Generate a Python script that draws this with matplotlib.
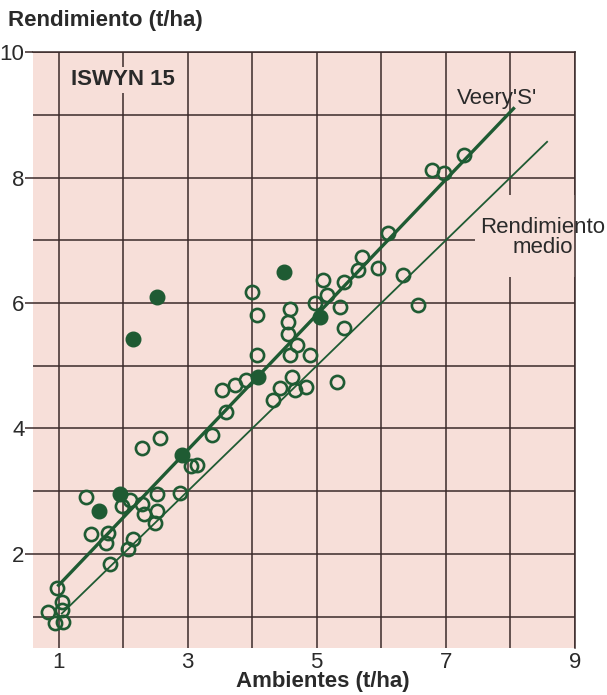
import matplotlib
matplotlib.use("Agg")
import matplotlib.pyplot as plt
from matplotlib.patches import Rectangle

# =============================================================================
# Datos
# =============================================================================
# lineas abiertas: otras variedades
open_x = [0.98, 1.05, 0.84, 1.05, 0.95, 1.07,
          1.43, 1.50, 1.77, 1.74, 1.79, 2.07, 2.15, 1.98, 2.10, 2.30, 2.33,
          2.52, 2.49, 2.53, 2.88, 2.29, 2.57,
          3.05, 3.14, 3.38, 3.60, 3.54, 3.73, 3.91, 3.99, 4.07, 4.07,
          4.32, 4.43, 4.61, 4.66, 4.84, 4.58, 4.55, 4.55, 4.69, 4.58, 4.89,
          4.97, 5.09, 5.16, 5.36, 5.43, 5.43, 5.31, 5.64, 5.70, 5.95, 6.10,
          6.33, 6.57, 6.78, 6.98, 7.29]
open_y = [1.45, 1.24, 1.08, 1.10, 0.90, 0.92,
          2.91, 2.31, 2.34, 2.18, 1.84, 2.08, 2.24, 2.77, 2.86, 2.80, 2.64,
          2.68, 2.50, 2.96, 2.97, 3.69, 3.85,
          3.40, 3.42, 3.89, 4.26, 4.61, 4.69, 4.77, 6.18, 5.81, 5.17,
          4.46, 4.65, 4.82, 4.61, 4.66, 5.90, 5.69, 5.50, 5.33, 5.17, 5.17,
          6.00, 6.37, 6.13, 5.94, 6.33, 5.60, 4.74, 6.53, 6.74, 6.56, 7.11,
          6.45, 5.97, 8.12, 8.07, 8.36]

# puntos llenos: Veery'S'
veery_x = [1.62, 1.95, 2.15, 2.53, 2.92, 4.09, 4.50, 5.05]
veery_y = [2.69, 2.96, 5.43, 6.10, 3.58, 4.82, 6.49, 5.78]

# rectas
veery_line_x = [1.0, 8.05]
veery_line_y = [1.50, 9.10]
medio_line_x = [1.05, 8.57]
medio_line_y = [1.05, 8.57]

xticks = [1, 3, 5, 7, 9]
yticks = [2, 4, 6, 8, 10]

# =============================================================================
# Estilo
# =============================================================================
pink = "#f7dfd9"
green = "#1f5b33"
gridc = "#3a2a2a"
txtc = "#2a2a2a"
fs = 16
plt.rcParams["font.family"] = ["Liberation Sans", "DejaVu Sans"]

fig = plt.figure(figsize=(6.07, 6.95), dpi=100)
ax = fig.add_axes([0.054, 0.0676, 0.893, 0.8574])
ax.set_facecolor(pink)
ax.set_xlim(0.6, 9)
ax.set_ylim(0.5, 10)

ax.set_xticks(xticks)
ax.set_xticks([2, 4, 6, 8], minor=True)
ax.set_yticks(yticks)
ax.set_yticks([1, 3, 5, 7, 9], minor=True)
ax.grid(True, which="both", color=gridc, lw=1.1, zorder=1)
ax.set_axisbelow(True)
ax.tick_params(axis="x", which="both", length=0, pad=3, labelsize=fs,
               colors=txtc)
ax.tick_params(axis="y", which="major", length=6, width=1.1, color=gridc,
               pad=0, labelsize=fs, labelcolor=txtc)
ax.tick_params(axis="y", which="minor", length=0)
for s in ["left", "bottom"]:
    ax.spines[s].set_visible(False)
for s in ["top", "right"]:
    ax.spines[s].set_color(gridc)
    ax.spines[s].set_linewidth(1.1)

# zona sin cuadricula detras del texto "Rendimiento medio"
ax.add_patch(Rectangle((7.45, 6.41), 2.0, 1.31, facecolor=pink,
                       edgecolor="none", zorder=1.5))

# rectas
ax.plot(veery_line_x, veery_line_y, color=green, lw=2.4, zorder=3)
ax.plot(medio_line_x, medio_line_y, color=green, lw=1.3, zorder=3)

# puntos
ax.plot(open_x, open_y, "o", ms=9.5, mfc="none", mec=green, mew=1.9,
        zorder=4)
ax.plot(veery_x, veery_y, "o", ms=10.5, mfc=green, mec=green, zorder=5)

# textos
ax.text(1.2, 9.56, "ISWYN 15", fontsize=fs, fontweight="bold",
        color=txtc, va="center", ha="left", zorder=6,
        bbox=dict(facecolor=pink, edgecolor="none", pad=2))
ax.text(7.17, 9.26, "Veery'S'", fontsize=fs, color=txtc,
        va="center", ha="left", zorder=6)
ax.text(8.5, 7.05, "Rendimiento\nmedio", fontsize=fs, color=txtc,
        va="center", ha="center", linespacing=0.95, zorder=6,
        clip_on=False)

fig.text(0.013, 0.970, "Rendimiento (t/ha)", fontsize=fs,
         fontweight="bold", color=txtc, ha="left", va="center")
fig.text(0.532, 0.004, "Ambientes (t/ha)", fontsize=fs,
         fontweight="bold", color=txtc, ha="center", va="bottom")

fig.savefig("out.png", dpi=100, facecolor="white")
